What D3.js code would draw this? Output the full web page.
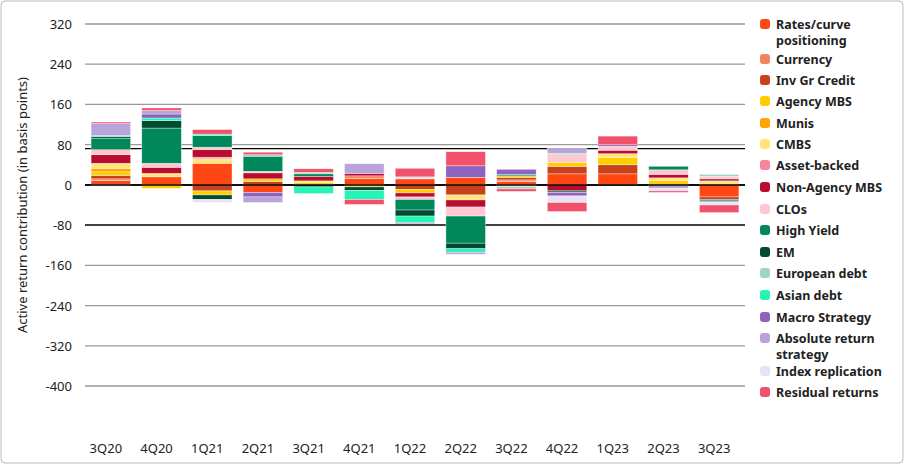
<!DOCTYPE html>
<html><head><meta charset="utf-8">
<script src="https://cdn.jsdelivr.net/npm/d3@7"></script>
<style>body{margin:0;background:#fff;font-family:"Noto Sans",Arial,sans-serif}</style>
</head><body><svg id="c" width="904" height="464"></svg>
<script>
const quarters = ["3Q20","4Q20","1Q21","2Q21","3Q21","4Q21","1Q22","2Q22","3Q22","4Q22","1Q23","2Q23","3Q23"];
const categories = ["Rates/curve positioning","Currency","Inv Gr Credit","Agency MBS","Munis","CMBS","Asset-backed","Non-Agency MBS","CLOs","High Yield","EM","European debt","Asian debt","Macro Strategy","Absolute return strategy","Index replication","Residual returns"];
const colors = ["#FF4713","#F4845F","#C8401C","#FFCE00","#FFA400","#FFE57A","#F5859A","#BA0C2F","#FFC7D0","#00875A","#004B32","#9ED6C0","#24F5B4","#8E62BF","#B9A3DB","#EAE1F5","#F2516C"];
const tickValues = [320,240,160,80,0,-80,-160,-240,-320,-400];
// values in basis points per quarter, in category order
const rates      = [9,16,43,-15,0,13,12,15,7,22,22,0,-24];
const currency   = [3,0,0,0,0,5,0,0,3,0,0,0,0];
const invGr      = [7,0,-12,7,0,0,-9,-20,5,15,18,0,-5];
const agency     = [7,-7,-8,5,5,-4,-7,0,3,8,15,9,0];
const munis      = [7,0,0,0,0,0,0,0,0,0,0,0,0];
const cmbs       = [10,7,9,0,3,0,0,-10,0,0,7,5,8];
const assetBack  = [0,0,3,0,0,0,0,0,0,0,0,0,0];
const nonAgency  = [17,12,15,12,9,5,-8,-14,0,-12,7,7,4];
const clos       = [10,8,5,3,0,0,-5,-18,-3,15,8,9,5];
const highYield  = [23,70,23,30,5,0,-21,-54,3,-3,0,7,-3];
const em         = [3,15,-9,0,-4,-7,-12,-11,0,0,0,0,0];
const european   = [0,0,0,3,3,0,0,0,-5,3,0,0,4];
const asian      = [2,5,3,0,-13,-18,-13,-7,0,0,0,0,0];
const macro      = [0,8,0,-9,0,0,-2,23,10,-7,3,0,0];
const absolute   = [24,7,0,-11,0,19,0,-4,0,10,0,-7,-3];
const indexRep   = [-3,0,-6,0,0,0,4,0,0,-13,0,-5,-5];
const residual   = [3,5,9,5,7,-10,17,28,-5,-18,17,-3,-15];
const series = [rates,currency,invGr,agency,munis,cmbs,assetBack,nonAgency,clos,highYield,em,european,asian,macro,absolute,indexRep,residual];

const svg = d3.select("#c");
svg.append("rect").attr("x",1).attr("y",1).attr("width",902).attr("height",462).attr("rx",4)
  .attr("fill","#fff").attr("stroke","#bbb");

const x = d3.scaleBand().domain(quarters).range([85,745]).paddingInner(0.22).paddingOuter(0.12);
const y = d3.scaleLinear().domain([-400,320]).range([386,24]);

// grid
svg.append("g").selectAll("line").data(tickValues).join("line")
  .attr("x1",85).attr("x2",745).attr("y1",d=>y(d)).attr("y2",d=>y(d))
  .attr("stroke",d=>(d===0||d===-80)?"#000":"#9a9a9a").attr("stroke-width",d=>(d===0||d===-80)?1.5:1.3);
svg.append("line").attr("x1",85).attr("x2",745).attr("y1",y(80)+4).attr("y2",y(80)+4)
  .attr("stroke","#000").attr("stroke-width",1.3);

svg.append("g").selectAll("text").data(tickValues).join("text")
  .attr("x",72).attr("y",d=>y(d)+5).attr("text-anchor","end")
  .attr("font-size",13).attr("fill","#222").text(d=>d);

svg.append("text").attr("transform","translate(27,205) rotate(-90)").attr("text-anchor","middle")
  .attr("font-size",13).attr("fill","#222").text("Active return contribution (in basis points)");

// stacked bars
const bars = svg.append("g");
quarters.forEach((q,qi)=>{
  let pos=0, neg=0;
  series.forEach((s,ci)=>{
    const v=s[qi]; if(!v) return;
    let y0,y1;
    if(v>0){y0=pos;y1=pos+v;pos=y1;} else {y0=neg;y1=neg+v;neg=y1;}
    bars.append("rect").attr("x",x(q)).attr("width",x.bandwidth())
      .attr("y",y(Math.max(y0,y1))).attr("height",Math.abs(y(y0)-y(y1)))
      .attr("fill",colors[ci]).attr("stroke","#fff").attr("stroke-width",0.6).attr("stroke-opacity",0.6);
  });
});
svg.append("line").attr("x1",85).attr("x2",745).attr("y1",y(0)).attr("y2",y(0)).attr("stroke","#000").attr("stroke-width",1.5);

svg.append("g").selectAll("text").data(quarters).join("text")
  .attr("x",d=>x(d)+x.bandwidth()/2-5).attr("y",453).attr("text-anchor","middle")
  .attr("font-size",13).attr("fill","#222").text(d=>d);

// legend
const legY = [24,59,80,101,123,144,165,187,209,230,252,273,295,317,338,371,392];
const leg = svg.append("g").selectAll("g").data(categories).join("g")
  .attr("transform",(d,i)=>`translate(760,${legY[i]})`);
leg.append("rect").attr("x",0).attr("y",-5).attr("width",10).attr("height",10).attr("rx",3).attr("fill",(d,i)=>colors[i]);
leg.each(function(d){
  const g=d3.select(this);
  const lines = d==="Rates/curve positioning"?["Rates/curve","positioning"]:d==="Absolute return strategy"?["Absolute return","strategy"]:[d];
  lines.forEach((t,j)=>g.append("text").attr("x",16).attr("y",5+j*16).attr("font-size",12.5)
    .attr("font-weight","bold").attr("fill","#222").text(t));
});
</script></body></html>
